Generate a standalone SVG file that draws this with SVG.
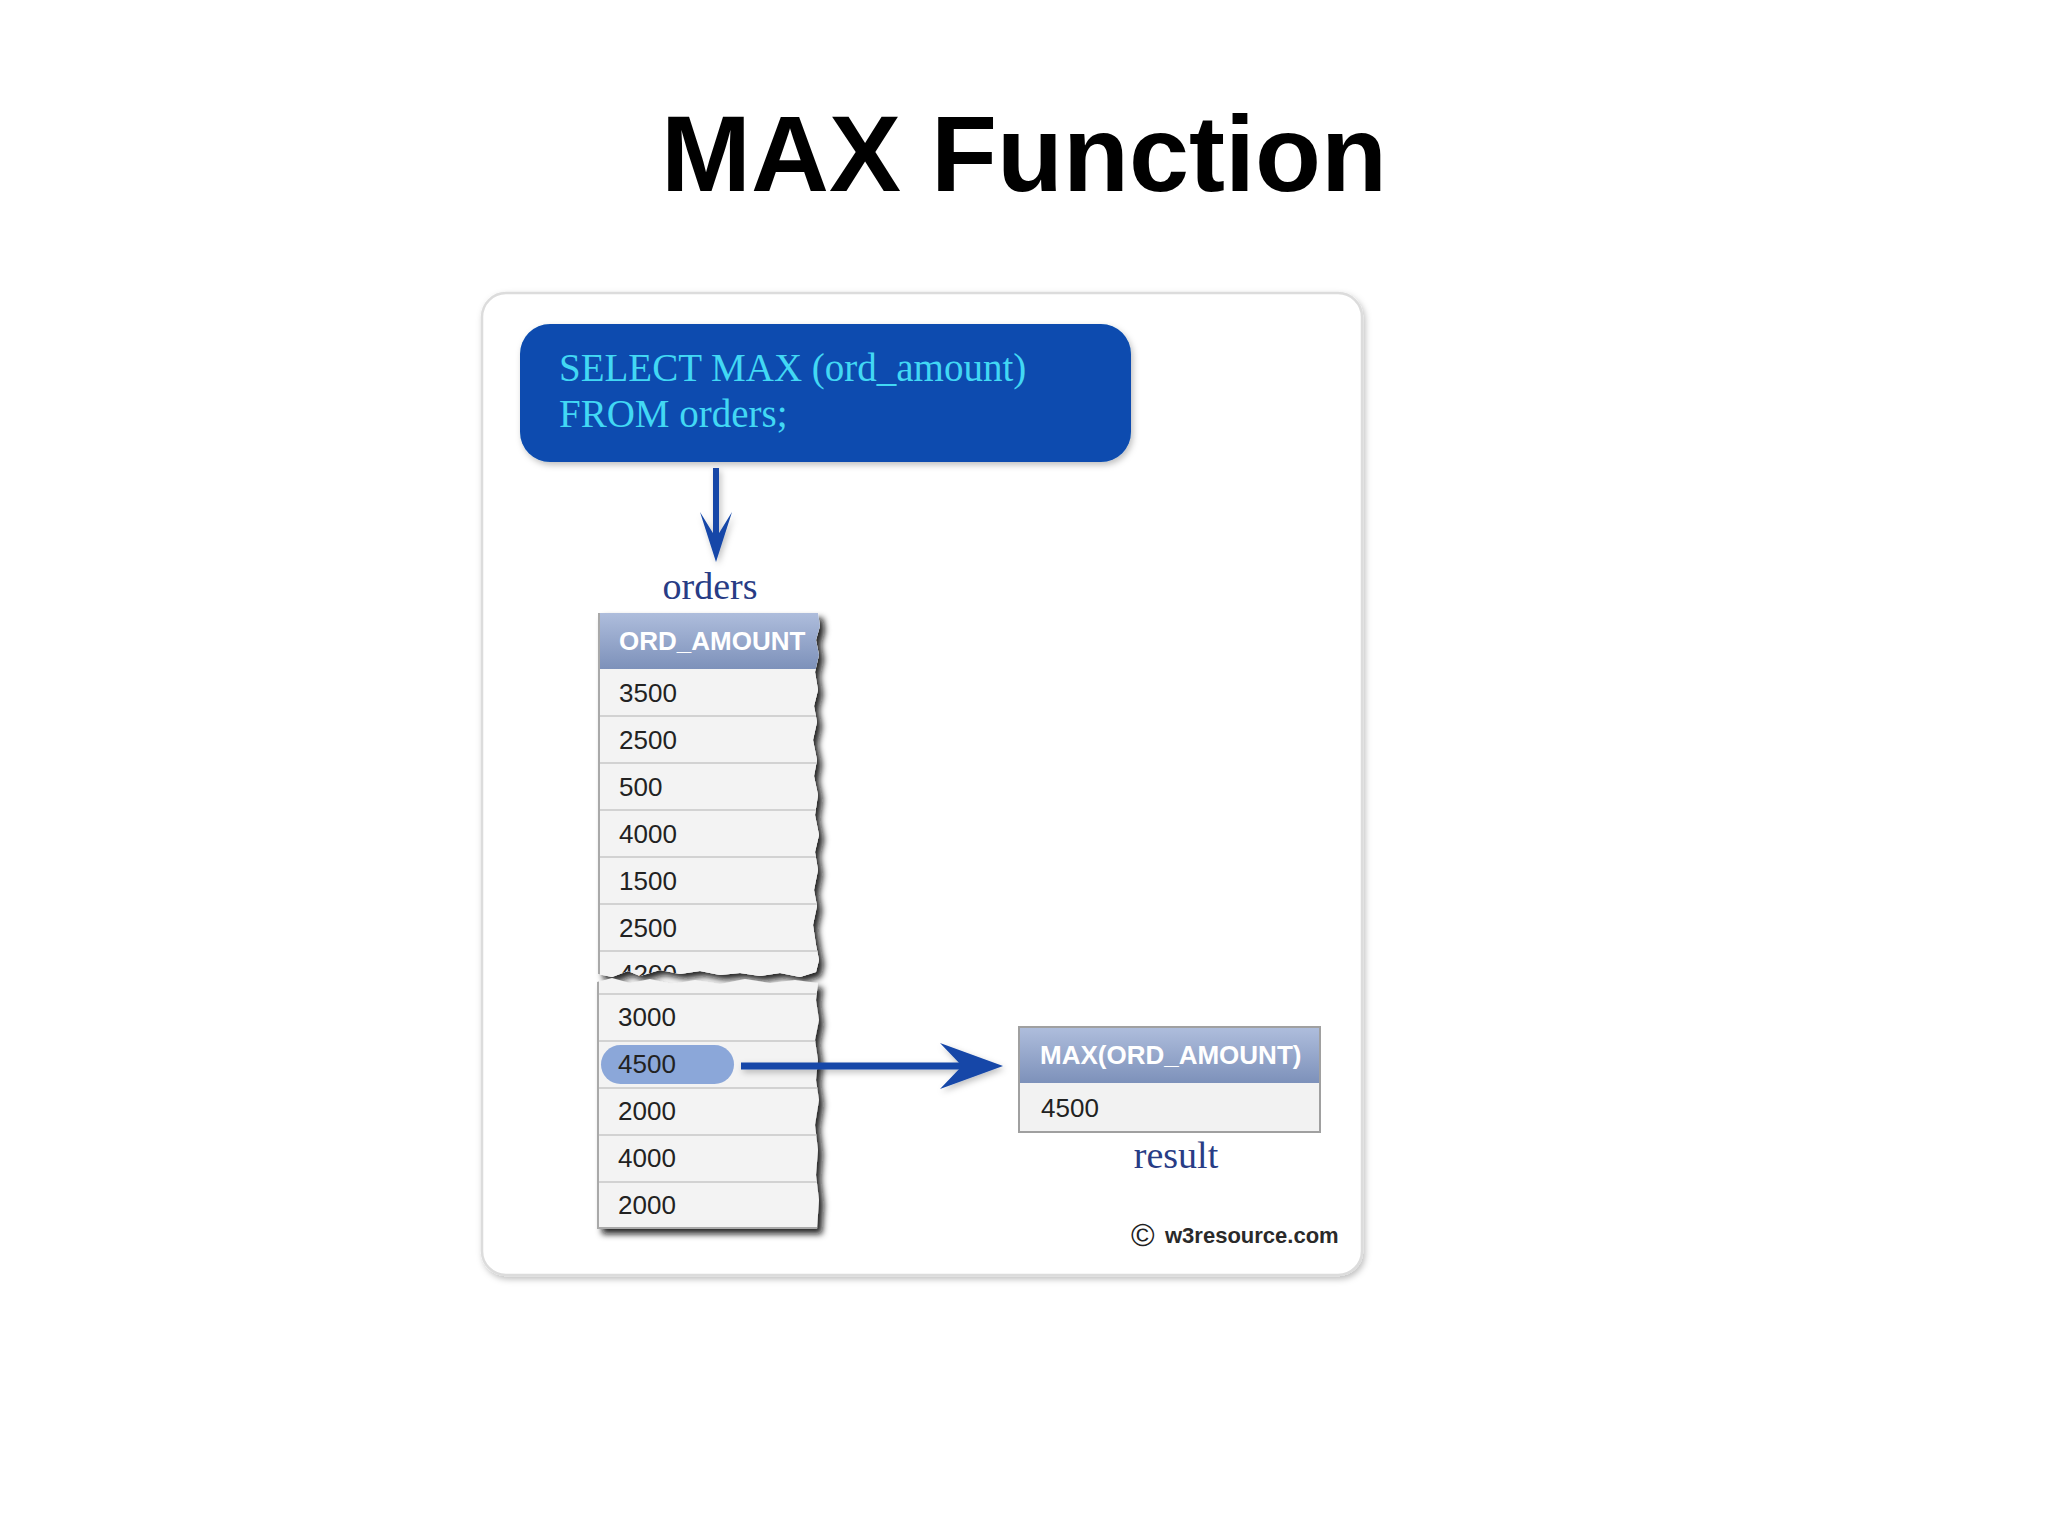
<svg xmlns="http://www.w3.org/2000/svg" width="2048" height="1536" viewBox="0 0 2048 1536">
<style>
.cell{fill:#f3f3f3}
.line{stroke:#d2d2d2;stroke-width:2}
.num{font-family:"Liberation Sans",Arial,sans-serif;font-size:26px;fill:#222}
.hdr{font-family:"Liberation Sans",Arial,sans-serif;font-size:26px;font-weight:bold;fill:#ffffff}
.serif{font-family:"Liberation Serif","Times New Roman",serif}
.lbl{font-family:"Liberation Serif","Times New Roman",serif;font-size:38px;fill:#283c85}
</style>
<defs>
<linearGradient id="hg" x1="0" y1="0" x2="0" y2="1">
<stop offset="0" stop-color="#aebddc"/>
<stop offset="1" stop-color="#7d91ba"/>
</linearGradient>
<filter id="sh" x="-10%" y="-10%" width="130%" height="130%">
<feDropShadow dx="5" dy="5" stdDeviation="3" flood-color="#111" flood-opacity="0.9"/>
</filter>
<filter id="soft" x="-10%" y="-10%" width="130%" height="130%">
<feDropShadow dx="2" dy="3" stdDeviation="3" flood-color="#000" flood-opacity="0.25"/>
</filter>
<clipPath id="p1">
<path d="M598,613 L818,613 L820,626 L816,640 L819,655 L815,672 L818,690 L814,706 L817,722 L813,740 L817,760 L814,776 L818,795 L815,815 L819,835 L815,852 L818,870 L814,890 L817,906 L813,925 L816,945 L819,960 L816,972 L800,977 L780,973 L760,976 L740,973 L720,975 L700,971 L680,974 L660,970 L640,976 L628,971 L612,977 L598,974 Z"/>
</clipPath>
<clipPath id="p2">
<path d="M597,982 L612,978 L630,983 L650,979 L672,984 L695,980 L720,984 L745,979 L770,983 L795,980 L818,983 L816,1000 L819,1020 L815,1040 L818,1060 L816,1080 L819,1100 L815,1125 L818,1150 L816,1175 L819,1200 L817,1229 L597,1229 Z"/>
</clipPath>
</defs>
<rect width="2048" height="1536" fill="#ffffff"/>
<g id="title">
<text x="1024" y="191" text-anchor="middle" font-family="Liberation Sans,Arial,sans-serif" font-weight="bold" font-size="108" fill="#000">MAX Function</text>
</g>
<g id="frame">
<rect x="482" y="293" width="880" height="982" rx="24" fill="#ffffff" stroke="#dcdcdc" stroke-width="2.5" filter="url(#soft)"/>
</g>
<g id="sql-box">
<rect x="520" y="324" width="611" height="138" rx="30" fill="#084caf" filter="url(#soft)"/>
<text class="serif" x="559" y="381" font-size="39" fill="#42d8f4">SELECT MAX (ord_amount)</text>
<text class="serif" x="559" y="427" font-size="39" fill="#42d8f4">FROM orders;</text>
</g>
<g id="orders-label">
<text class="lbl" x="710" y="599" text-anchor="middle">orders</text>
</g>
<g id="orders-table">
<g filter="url(#sh)">
<path d="M598,613 L818,613 L820,626 L816,640 L819,655 L815,672 L818,690 L814,706 L817,722 L813,740 L817,760 L814,776 L818,795 L815,815 L819,835 L815,852 L818,870 L814,890 L817,906 L813,925 L816,945 L819,960 L816,972 L800,977 L780,973 L760,976 L740,973 L720,975 L700,971 L680,974 L660,970 L640,976 L628,971 L612,977 L598,974 Z" fill="#f3f3f3"/>
</g>
<g clip-path="url(#p1)">
<rect x="598" y="613" width="225" height="56" fill="url(#hg)"/>
<rect x="598" y="669" width="225" height="310" class="cell"/>
<line class="line" x1="598" y1="716" x2="822" y2="716"/>
<line class="line" x1="598" y1="763" x2="822" y2="763"/>
<line class="line" x1="598" y1="810" x2="822" y2="810"/>
<line class="line" x1="598" y1="857" x2="822" y2="857"/>
<line class="line" x1="598" y1="904" x2="822" y2="904"/>
<line class="line" x1="598" y1="951" x2="822" y2="951"/>
<line x1="599" y1="613" x2="599" y2="980" stroke="#a9a9a9" stroke-width="2"/>
<text class="hdr" x="619" y="650">ORD_AMOUNT</text>
<text class="num" x="619" y="702">3500</text>
<text class="num" x="619" y="749">2500</text>
<text class="num" x="619" y="796">500</text>
<text class="num" x="619" y="843">4000</text>
<text class="num" x="619" y="890">1500</text>
<text class="num" x="619" y="937">2500</text>
<text class="num" x="619" y="983">4200</text>
</g>
<g filter="url(#sh)">
<path d="M597,982 L612,978 L630,983 L650,979 L672,984 L695,980 L720,984 L745,979 L770,983 L795,980 L818,983 L816,1000 L819,1020 L815,1040 L818,1060 L816,1080 L819,1100 L815,1125 L818,1150 L816,1175 L819,1200 L817,1229 L597,1229 Z" fill="#f3f3f3"/>
</g>
<g clip-path="url(#p2)">
<line class="line" x1="597" y1="994" x2="822" y2="994"/>
<line class="line" x1="597" y1="1041" x2="822" y2="1041"/>
<line class="line" x1="597" y1="1088" x2="822" y2="1088"/>
<line class="line" x1="597" y1="1135" x2="822" y2="1135"/>
<line class="line" x1="597" y1="1182" x2="822" y2="1182"/>
<line x1="598" y1="978" x2="598" y2="1229" stroke="#a9a9a9" stroke-width="2"/>
<line x1="597" y1="1228" x2="822" y2="1228" stroke="#a9a9a9" stroke-width="2"/>
<rect x="601" y="1045" width="133" height="39" rx="19.5" fill="#8ba7d9"/>
<text class="num" x="618" y="1026">3000</text>
<text class="num" x="618" y="1073" fill="#2b4080">4500</text>
<text class="num" x="618" y="1120">2000</text>
<text class="num" x="618" y="1167">4000</text>
<text class="num" x="618" y="1214">2000</text>
</g>
</g>
<g id="result-table">
<rect x="1019" y="1027" width="301" height="105" fill="#f2f2f2" stroke="#a0a0a0" stroke-width="2"/>
<rect x="1020" y="1028" width="299" height="55" fill="url(#hg)"/>
<text class="hdr" x="1040" y="1064">MAX(ORD_AMOUNT)</text>
<text class="num" x="1041" y="1117">4500</text>
</g>
<g id="result-label">
<text class="lbl" x="1176" y="1168" text-anchor="middle">result</text>
</g>
<g id="copyright">
<text x="1131" y="1246" font-family="Liberation Sans,Arial,sans-serif" font-size="32" fill="#222">©</text>
<text x="1165" y="1243" font-family="Liberation Sans,Arial,sans-serif" font-size="22" font-weight="bold" fill="#2a2a2a">w3resource.com</text>
</g>
<g id="connectors" fill="#1547a8" stroke="#1547a8">
<g filter="url(#soft)">
<line x1="716" y1="468" x2="716" y2="550" stroke-width="6"/>
<polygon points="700,512 716,562 732,512 716,538" stroke="none"/>
<line x1="741" y1="1066" x2="990" y2="1066" stroke-width="7"/>
<polygon points="940,1043 1003,1066 940,1089 962,1066" stroke="none"/>
</g>
</g>
</svg>
